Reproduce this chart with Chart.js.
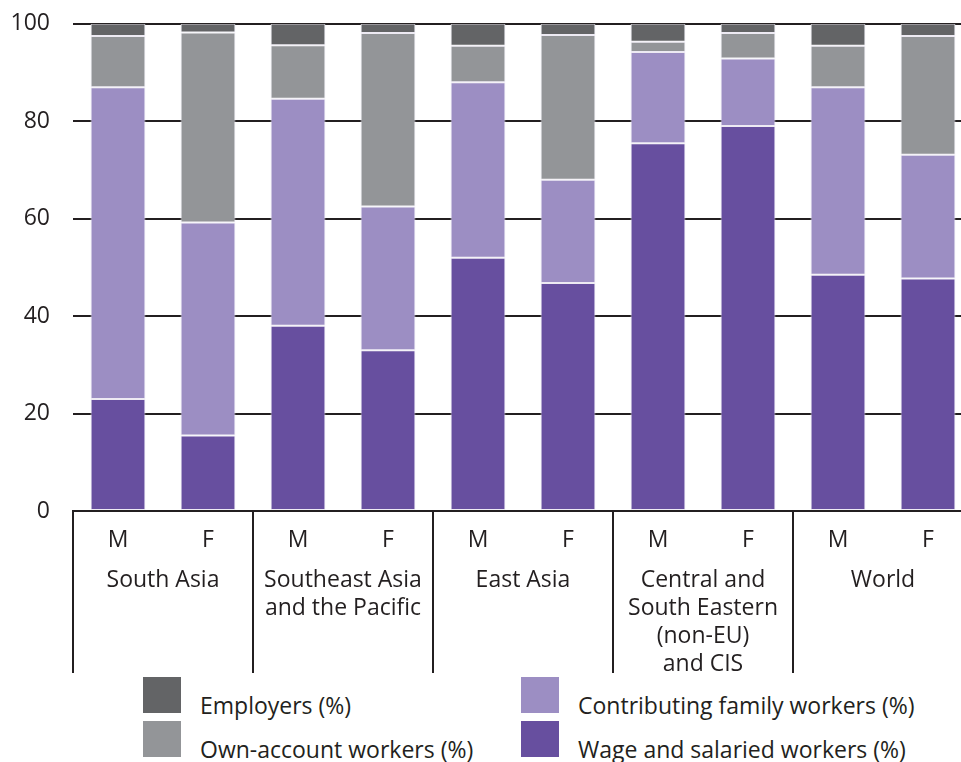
<!DOCTYPE html>
<html><head><meta charset="utf-8">
<script src="https://cdn.jsdelivr.net/npm/chart.js@4/dist/chart.umd.min.js"></script>
<style>
html,body{margin:0;padding:0;background:#fff;overflow:hidden;width:961px;height:762px;}
#wrap{position:absolute;left:0;top:-13px;width:975px;height:686px;}
.lt{position:absolute;font-family:'Open Sans',sans-serif;font-size:23px;color:#231f20;line-height:28px;white-space:nowrap;}
.lb{position:absolute;width:38px;height:36px;}
</style></head><body>
<div id="wrap"><canvas id="c"></canvas></div>
<div id="legend"></div>
<script>
const groups = [['South Asia'], ['Southeast Asia','and the Pacific'], ['East Asia'], ['Central and','South Eastern','(non-EU)','and CIS'], ['World']];
const sexes = ['M','F','M','F','M','F','M','F','M','F'];
const yTicks = [0,20,40,60,80,100];
const wage       = [23, 15.5, 38, 33, 52, 46.8, 75.5, 79, 48.5, 47.7];
const family     = [64, 43.7, 46.6, 29.5, 36, 21.2, 18.7, 13.9, 38.5, 25.4];
const ownAccount = [10.5, 39, 11, 35.6, 7.5, 29.7, 2.1, 5.2, 8.5, 24.4];
const employers  = [2.5, 1.8, 4.4, 1.9, 4.5, 2.3, 3.7, 1.9, 4.5, 2.5];
const seriesNames = ['Wage and salaried workers (%)','Contributing family workers (%)','Own-account workers (%)','Employers (%)'];
const colors = ['#674f9f','#9c8ec3','#939598','#636466'];

const INK = '#231f20';
const FONT = "'Open Sans', sans-serif";

const separators = {
  id:'separators',
  afterDraw(chart){
    const x = chart.scales.x, ctx = chart.ctx;
    const slot = (x.right - x.left) / sexes.length;
    ctx.save();
    ctx.strokeStyle = INK; ctx.lineWidth = 2;
    for (let k = 0; k <= groups.length; k++) {
      const px = k < groups.length ? x.getPixelForValue(2*k) - slot/2 : x.right;
      ctx.beginPath();
      ctx.moveTo(px, chart.chartArea.bottom);
      ctx.lineTo(px, chart.height);
      ctx.stroke();
    }
    ctx.restore();
  }
};

const data = [wage, family, ownAccount, employers];
new Chart(document.getElementById('c'), {
  type:'bar',
  data:{
    labels: sexes,
    datasets: data.map((d,i)=>({
      label: seriesNames[i], data: d, backgroundColor: colors[i],
      borderColor:'rgba(235,232,242,0.9)', borderWidth:1, borderSkipped:false,
      barPercentage:0.61, categoryPercentage:1
    }))
  },
  options:{
    responsive:true, maintainAspectRatio:false, animation:false,
    layout:{padding:{top:10,right:2,left:0,bottom:0}},
    plugins:{legend:{display:false}, tooltip:{enabled:false}},
    scales:{
      x:{
        stacked:true, position:'bottom',
        grid:{display:false, drawTicks:false},
        border:{display:true, color:INK, width:2},
        ticks:{color:INK, font:{family:FONT,size:23}, padding:16, maxRotation:0, autoSkip:false},
        afterFit(s){ s.height = 50; }
      },
      x2:{
        type:'category', labels: groups, position:'bottom', offset:true,
        grid:{display:false, drawTicks:false},
        border:{display:false},
        ticks:{color:INK, font:{family:FONT,size:23,lineHeight:1.217}, padding:5, maxRotation:0, autoSkip:false},
        afterFit(s){ s.height = 112; }
      },
      y:{
        stacked:true, min:0, max:100,
        afterBuildTicks(s){ s.ticks = yTicks.map(v=>({value:v})); },
        grid:{color:INK, lineWidth:2, drawTicks:false},
        border:{display:false},
        ticks:{color:INK, font:{family:FONT,size:23}, padding:23},
        afterFit(s){ s.width = 73; }
      }
    }
  },
  plugins:[separators]
});

// legend (HTML text)
const legendItems = [
  {name: seriesNames[3], color: colors[3], x:143, y:677},
  {name: seriesNames[2], color: colors[2], x:143, y:721},
  {name: seriesNames[1], color: colors[1], x:521, y:677},
  {name: seriesNames[0], color: colors[0], x:521, y:721}
];
const lg = document.getElementById('legend');
legendItems.forEach(it=>{
  const b = document.createElement('div'); b.className='lb';
  b.style.left = it.x+'px'; b.style.top = it.y+'px'; b.style.background = it.color;
  lg.appendChild(b);
  const t = document.createElement('div'); t.className='lt';
  t.style.left = (it.x+57)+'px'; t.style.top = (it.y+14)+'px'; t.textContent = it.name;
  lg.appendChild(t);
});
</script>
</body></html>
